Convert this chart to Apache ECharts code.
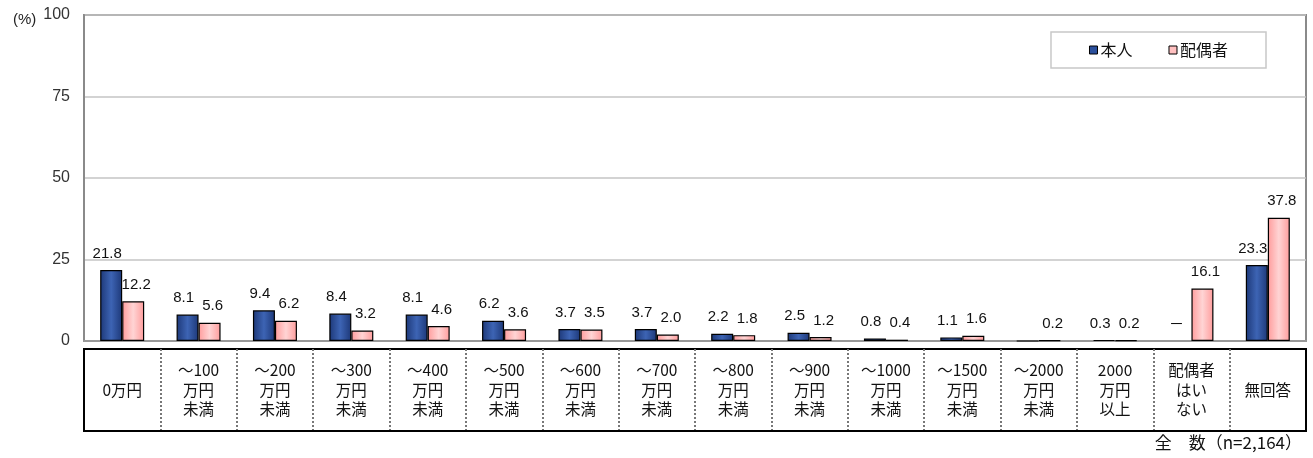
<!DOCTYPE html>
<html>
<head>
<meta charset="utf-8" />
<title>本人・配偶者の年収</title>
<style type="text/css">
html,body{margin:0;padding:0;background:#fff}
#chart{width:1313px;height:458px}
</style>
<script src="https://cdn.jsdelivr.net/npm/echarts@6/dist/echarts.min.js"></script>
</head>
<body>
<div id="chart"></div>
<script type="text/javascript">
var categories = ['0万円', '～100\n万円\n未満', '～200\n万円\n未満', '～300\n万円\n未満', '～400\n万円\n未満',
	'～500\n万円\n未満', '～600\n万円\n未満', '～700\n万円\n未満', '～800\n万円\n未満', '～900\n万円\n未満',
	'～1000\n万円\n未満', '～1500\n万円\n未満', '～2000\n万円\n未満', '2000\n万円\n以上', '配偶者\nはい\nない', '無回答'];
// 本人
var honnin = [21.8, 8.1, 9.4, 8.4, 8.1, 6.2, 3.7, 3.7, 2.2, 2.5, 0.8, 1.1, 0.0, 0.3, 0, 23.3];
var honninLabel = ['21.8', '8.1', '9.4', '8.4', '8.1', '6.2', '3.7', '3.7', '2.2', '2.5', '0.8', '1.1', '', '0.3', '－', '23.3'];
// 配偶者
var haigusha = [12.2, 5.6, 6.2, 3.2, 4.6, 3.6, 3.5, 2.0, 1.8, 1.2, 0.4, 1.6, 0.2, 0.2, 16.1, 37.8];
var yTicks = [0, 25, 50, 75, 100];

var font = "'Liberation Sans','Noto Sans CJK JP',sans-serif";
var jpFont = "'Noto Sans CJK JP',sans-serif";

var blueFill = new echarts.graphic.LinearGradient(0, 0, 1, 0, [
	{offset: 0, color: '#1d3878'}, {offset: 0.5, color: '#3d64b4'}, {offset: 1, color: '#1d3878'}]);
var pinkFill = new echarts.graphic.LinearGradient(0, 0, 1, 0, [
	{offset: 0, color: '#ff9c9c'}, {offset: 0.5, color: '#ffd4d4'}, {offset: 1, color: '#ff9c9c'}]);

var chart = echarts.init(document.getElementById('chart'));
var option = {
	animation: false,
	textStyle: {fontFamily: font},
	title: [
		{text: '(%)', left: 8, top: 7, textStyle: {fontSize: 15, fontWeight: 'normal', color: '#222', fontFamily: font}},
		{text: '全　数（n=2,164）', right: 6, bottom: 2, textStyle: {fontSize: 17, fontWeight: 'normal', color: '#111', fontFamily: jpFont}}
	],
	legend: {
		right: 47, top: 32,
		padding: [10, 38, 10, 38],
		itemGap: 36,
		itemWidth: 8, itemHeight: 8,
		icon: 'rect',
		borderColor: '#c8c8c8', borderWidth: 1.5,
		backgroundColor: '#fff',
		textStyle: {fontSize: 16, color: '#111', fontFamily: jpFont, padding: [0, 0, 0, -2]},
		data: [
			{name: '本人', itemStyle: {color: '#2a4f9c', borderColor: '#000', borderWidth: 1}},
			{name: '配偶者', itemStyle: {color: '#ffc0c0', borderColor: '#000', borderWidth: 1}}
		]
	},
	grid: [
		{left: 84, right: 7, top: 15, bottom: 117, show: true, borderColor: '#8a8a8a', borderWidth: 2},
		{left: 84, right: 7, top: 349, height: 82, show: true, borderColor: '#000', borderWidth: 2}
	],
	xAxis: [
		{
			type: 'category', gridIndex: 0, data: categories,
			axisLine: {lineStyle: {color: '#999', width: 2}},
			axisTick: {show: false},
			axisLabel: {show: false}
		},
		{
			type: 'category', gridIndex: 1, data: categories,
			axisLine: {lineStyle: {color: '#000', width: 2}},
			axisTick: {show: false},
			splitLine: {show: true, lineStyle: {color: '#777', type: 'dotted', width: 2}},
			axisLabel: {
				inside: true, margin: 41, verticalAlign: 'middle', interval: 0,
				fontSize: 15.5, lineHeight: 19.5, color: '#111', fontFamily: jpFont
			}
		},
		{
			type: 'category', gridIndex: 1, position: 'top', data: categories,
			axisLine: {lineStyle: {color: '#000', width: 2}},
			axisTick: {show: false}, axisLabel: {show: false}
		}
	],
	yAxis: [
		{
			type: 'value', gridIndex: 0, min: 0, max: 100, interval: 25,
			axisLine: {show: true, lineStyle: {color: '#8a8a8a', width: 2}},
			axisTick: {show: false},
			splitLine: {lineStyle: {color: '#c4c4c4', width: 1.5}},
			axisLabel: {
				margin: 14, fontSize: 16, color: '#333',
				formatter: function (v) { return yTicks.indexOf(v) >= 0 ? String(v) : ''; }
			}
		},
		{
			type: 'value', gridIndex: 1, min: 0, max: 1, position: 'left',
			axisLine: {show: true, lineStyle: {color: '#000', width: 2}},
			axisTick: {show: false}, axisLabel: {show: false}, splitLine: {show: false}
		},
		{
			type: 'value', gridIndex: 1, min: 0, max: 1, position: 'right',
			axisLine: {show: true, lineStyle: {color: '#000', width: 2}},
			axisTick: {show: false}, axisLabel: {show: false}, splitLine: {show: false}
		}
	],
	series: [
		{
			name: '本人', type: 'bar', xAxisIndex: 0, yAxisIndex: 0,
			barWidth: 22, barGap: '0%',
			data: honnin.map(function (v, i) {
				return honninLabel[i] === '－' ? {value: v, itemStyle: {borderWidth: 0, color: 'transparent'}} : v;
			}),
			itemStyle: {color: blueFill, borderColor: '#000', borderWidth: 1.2},
			label: {
				show: true, position: 'top', distance: 9, offset: [-4, 0],
				fontSize: 15, color: '#111', fontFamily: font,
				formatter: function (p) { return honninLabel[p.dataIndex]; }
			}
		},
		{
			name: '配偶者', type: 'bar', xAxisIndex: 0, yAxisIndex: 0,
			barWidth: 22, barGap: '0%',
			data: haigusha,
			itemStyle: {color: pinkFill, borderColor: '#000', borderWidth: 1.2},
			label: {
				show: true, position: 'top', distance: 9, offset: [3, 0],
				fontSize: 15, color: '#111', fontFamily: font,
				formatter: function (p) { return p.value.toFixed(1); }
			}
		}
	]
};
chart.setOption(option);
</script>
</body>
</html>
